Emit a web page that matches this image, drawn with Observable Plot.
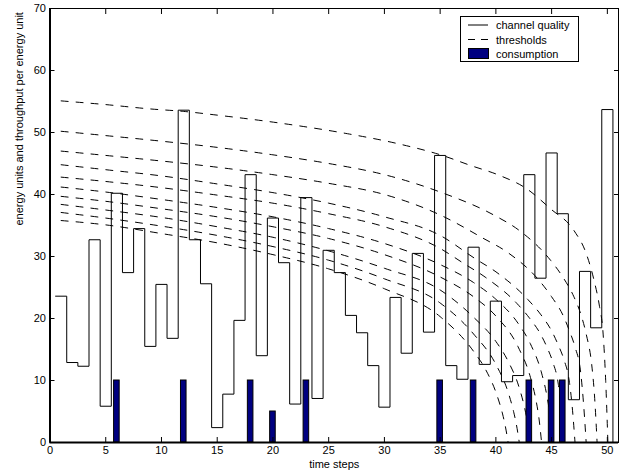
<!DOCTYPE html>
<html><head><meta charset="utf-8">
<script src="https://cdn.jsdelivr.net/npm/d3@7"></script>
<script src="https://cdn.jsdelivr.net/npm/@observablehq/plot@0.6"></script>
<style>
body{margin:0;background:#fff;font-family:"Liberation Sans",Arial,Helvetica,sans-serif;}
#wrap{position:relative;width:626px;height:476px;}
#legend{position:absolute;left:0;top:0;pointer-events:none;}
</style></head><body><div id="wrap"></div>
<script>
// ---- data ----
const timeSteps = [1,2,3,4,5,6,7,8,9,10,11,12,13,14,15,16,17,18,19,20,21,22,23,24,25,26,27,28,29,30,31,32,33,34,35,36,37,38,39,40,41,42,43,44,45,46,47,48,49,50];
const channelQuality = [23.6,12.9,12.3,32.7,5.85,40.2,27.4,34.5,15.5,25.5,16.8,53.6,32.7,25.6,2.4,7.8,19.7,43.2,14.0,36.2,29.0,6.2,39.5,7.1,31.0,27.4,20.5,17.7,12.4,5.7,23.4,14.4,30.5,17.8,46.3,12.4,10.2,31.5,12.6,22.8,9.8,10.8,43.2,26.5,46.7,36.9,6.9,27.6,18.5,53.7];
const consumptionT = [6,12,18,20,23,35,38,43,45,46];
const consumptionV = [10,10,10,5,10,10,10,10,10,10];
const xTicks = [0,5,10,15,20,25,30,35,40,45,50];
const yTicks = [0,10,20,30,40,50,60,70];
const legendLabels = ["channel quality","thresholds","consumption"];

const threshold1 = [[1,55.1],[5,54.5],[9,53.8],[12,53.4],[15,52.8],[20.7,51.5],[26.7,49.8],[31.2,48.2],[35.2,46.3],[37.7,44.7],[40.3,43.1],[42.7,41.0],[44.9,37.7],[47.0,34.2],[48.1,30.5],[48.8,26.2],[49.3,21.9],[49.6,18],[49.85,10],[50.05,0]];
const threshold2 = [[1,50.2],[5,49.5],[10,48.6],[15,47.6],[20,46.4],[25,45.0],[30,43.2],[35,40.4],[39.8,36.7],[42.1,34.2],[44.9,29.4],[46,26.7],[47,23.5],[47.6,20.8],[48.1,17.5],[48.6,12.5],[48.85,7.5],[49.08,0]];
const threshold3 = [[1,47.0],[5,46.3],[10,45.4],[15,44.4],[20,43.2],[25,41.8],[30,40.0],[35,36.7],[38.8,33.0],[41.1,30.6],[43.9,26.1],[45,23.5],[46,20.6],[46.6,18],[47.1,15.4],[47.6,11.4],[47.85,6.6],[48.1,0]];
const threshold4 = [[1,44.8],[5,44.0],[10,43.0],[15,41.7],[20,40.3],[25,38.6],[30,36.4],[35,33.4],[38.1,29.7],[40.1,27.4],[42.9,23.0],[44,20.7],[45,18.0],[45.6,15.7],[46.1,13.4],[46.6,9.7],[46.85,5.7],[47.1,0]];
const threshold5 = [[1,42.8],[5,42.1],[10,41.1],[15,39.9],[20,38.6],[25,36.9],[30,34.8],[35,31.3],[37.1,28.9],[39.1,26.6],[41.9,22.4],[43,20.1],[44,17.5],[44.6,15.3],[45.1,13.0],[45.6,9.4],[45.85,5.5],[46.1,0]];
const threshold6 = [[1,41.2],[5,40.4],[10,39.2],[15,37.9],[20,36.4],[25,34.5],[30,32.1],[35,28.7],[38,25.8],[40,23.1],[42,19.2],[43.1,15.9],[44.1,11.2],[44.6,7.3],[44.85,4.4],[45.1,0]];
const threshold7 = [[1,39.7],[5,38.9],[10,37.7],[15,36.4],[20,34.8],[25,32.9],[30,30.3],[35,26.7],[38,23.5],[40,20.4],[42,15.4],[43.1,10.5],[43.6,6.8],[43.85,4.1],[44.1,0]];
const threshold8 = [[1,38.4],[5,37.5],[10,36.3],[15,34.8],[20,33.1],[25,30.9],[30,28.1],[35,24.6],[38,20.2],[40,16.3],[41.1,13.1],[42.1,8.8],[42.6,5.4],[42.85,3.1],[43.1,0]];
const threshold9 = [[1,37.1],[5,36.2],[10,34.9],[15,33.4],[20,31.6],[25,29.4],[30,26.4],[35,22.5],[38,17.5],[40,12.6],[41.1,8.1],[41.6,4.9],[41.85,2.8],[42.1,0]];
const threshold10 = [[1,35.8],[5,35.1],[10,33.7],[15,32.2],[20,30.3],[25,28.0],[30,24.8],[35,20.3],[38,14.7],[39.1,11.7],[40.1,7.6],[40.6,4.6],[40.85,2.6],[41.1,0]];
const thresholds = [threshold1,threshold2,threshold3,threshold4,threshold5,threshold6,threshold7,threshold8,threshold9,threshold10];

// ---- derived tables ----
const stairs = channelQuality.map((v,i)=>({t: timeSteps[i]-0.5, v}));
stairs.push({t: timeSteps[timeSteps.length-1]+0.5, v: 0});
const consumption = consumptionT.map((t,i)=>({t, v: consumptionV[i]}));

const font = "'Liberation Sans', Arial, Helvetica, sans-serif";
const plot = Plot.plot({
  width: 626, height: 476,
  marginLeft: 49.5, marginRight: 8, marginTop: 8, marginBottom: 34,
  style: {fontFamily: font, fontSize: "11px", background: "#fff", color: "#000", overflow: "visible"},
  x: {domain: [0, 51], ticks: xTicks, label: null},
  y: {domain: [0, 70], ticks: yTicks, label: null},
  marks: [
    Plot.line(stairs, {x: "t", y: "v", curve: "step-after", stroke: "#000", strokeWidth: 1}),
    ...thresholds.map(th => Plot.line(th, {x: d => d[0], y: d => d[1], curve: "monotone-x", stroke: "#000", strokeWidth: 1, strokeDasharray: "7,8"})),
    Plot.rectY(consumption, {x1: d => d.t - 0.25, x2: d => d.t + 0.25, y1: 0, y2: "v", fill: "#000080", stroke: "#000", strokeWidth: 1}),
    Plot.frame({stroke: "#000", strokeWidth: 1}),
    Plot.ruleX([0], {stroke: "#000", strokeWidth: 2}),
    Plot.ruleY([0], {stroke: "#000", strokeWidth: 2}),
    Plot.axisX(xTicks, {anchor: "bottom", tickSize: 5, dy: -5, tickFormat: () => "", label: null}),
    Plot.axisX(xTicks, {anchor: "top", tickSize: 5, dy: 5, tickFormat: () => "", label: null}),
    Plot.axisY(yTicks, {anchor: "left", tickSize: 5, dx: 5, tickFormat: () => "", label: null}),
    Plot.axisY(yTicks, {anchor: "right", tickSize: 5, dx: -5, tickFormat: () => "", label: null}),
    Plot.axisX(xTicks, {anchor: "bottom", tickSize: 0, tickPadding: 4, fontSize: 11, label: null}),
    Plot.axisY(yTicks, {anchor: "left", tickSize: 0, tickPadding: 4, fontSize: 11, label: null}),
    Plot.text(["time steps"], {frameAnchor: "bottom", dy: 25, fontSize: 11}),
    Plot.text(["energy units and throughput per energy unit"], {frameAnchor: "left", dx: -31, rotate: -90, fontSize: 11})
  ]
});
const wrap = document.getElementById("wrap");
wrap.appendChild(plot);

// legend overlay
const ns = "http://www.w3.org/2000/svg";
const lg = document.createElementNS(ns, "svg");
lg.setAttribute("id", "legend");
lg.setAttribute("width", 626); lg.setAttribute("height", 476);
lg.innerHTML = `
<rect x="460.5" y="16.5" width="118" height="45" fill="#fff" stroke="#000" stroke-width="1"/>
<line x1="468" x2="488" y1="25" y2="25" stroke="#000" stroke-width="1"/>
<line x1="468" x2="488" y1="39.5" y2="39.5" stroke="#000" stroke-width="1" stroke-dasharray="7,6"/>
<rect x="468.5" y="48.5" width="20" height="10" fill="#000080" stroke="#000" stroke-width="1"/>
<text x="496" y="29" font-size="11" font-family="${font}">${legendLabels[0]}</text>
<text x="496" y="43.5" font-size="11" font-family="${font}">${legendLabels[1]}</text>
<text x="496" y="57.5" font-size="11" font-family="${font}">${legendLabels[2]}</text>`;
wrap.appendChild(lg);
</script></body></html>
